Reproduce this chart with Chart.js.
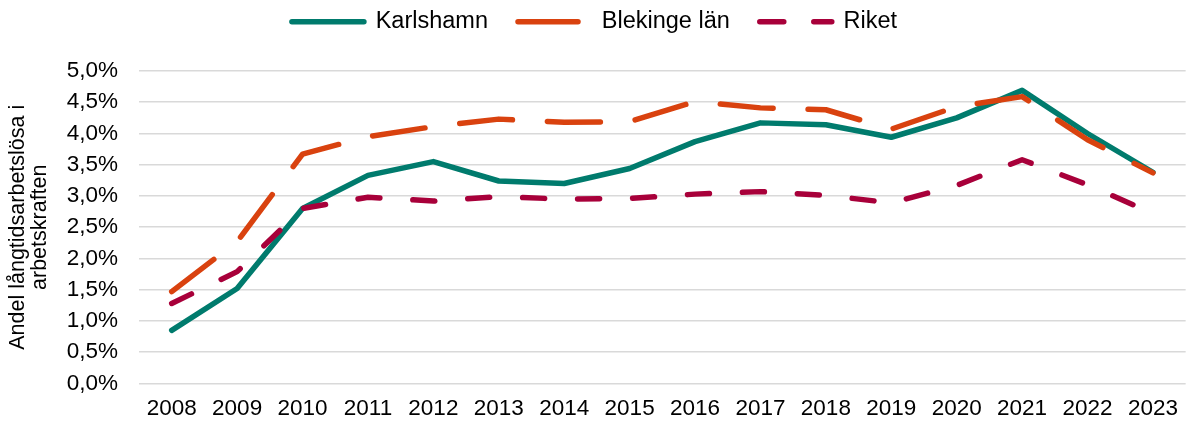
<!DOCTYPE html>
<html>
<head>
<meta charset="utf-8">
<script src="https://cdn.jsdelivr.net/npm/chart.js@4/dist/chart.umd.min.js"></script>
<style>
  html, body { margin: 0; padding: 0; background: #fff; overflow: hidden; }
  #wrap { position: relative; width: 1190px; height: 423px; }
</style>
</head>
<body>
<div id="wrap"><canvas id="c"></canvas></div>
<script>
const years = ['2008','2009','2010','2011','2012','2013','2014','2015','2016','2017','2018','2019','2020','2021','2022','2023'];
const karlshamn = [0.85, 1.52, 2.80, 3.33, 3.55, 3.24, 3.20, 3.44, 3.87, 4.17, 4.14, 3.94, 4.25, 4.69, 4.00, 3.38];
const blekinge  = [1.47, 2.27, 3.67, 3.95, 4.11, 4.23, 4.18, 4.19, 4.51, 4.41, 4.38, 4.07, 4.43, 4.59, 3.90, 3.37];
const riket     = [1.28, 1.79, 2.80, 2.98, 2.92, 2.99, 2.95, 2.96, 3.03, 3.07, 3.01, 2.89, 3.17, 3.58, 3.18, 2.72];
const seriesNames = ['Karlshamn', 'Blekinge län', 'Riket'];
const yAxisTitle = ['Andel långtidsarbetslösa i', 'arbetskraften'];

const FONT = "'Liberation Sans', Arial, sans-serif";
const legendDashes = [[], [60, 40], [24, 30]];

const legendTweak = {
  id: 'legendTweak',
  beforeInit(chart) {
    const lg = chart.legend;
    const origFit = lg.fit;
    lg.fit = function () { origFit.bind(lg)(); this.height = 71; };
    const origDraw = lg.draw;
    lg.draw = function () {
      const ctx = chart.ctx;
      ctx.save();
      ctx.translate(0, -20);
      origDraw.call(lg);
      ctx.restore();
    };
  }
};

new Chart(document.getElementById('c'), {
  type: 'line',
  data: {
    labels: years,
    datasets: [
      { label: seriesNames[0], data: karlshamn, borderColor: '#007B6D', backgroundColor: '#007B6D',
        borderWidth: 5.5, borderCapStyle: 'round', borderJoinStyle: 'round', pointRadius: 0, tension: 0, order: 3 },
      { label: seriesNames[1], data: blekinge, borderColor: '#D9420F', backgroundColor: '#D9420F',
        borderWidth: 5.5, borderDash: [53, 35], borderCapStyle: 'round', borderJoinStyle: 'round', pointRadius: 0, tension: 0, order: 2 },
      { label: seriesNames[2], data: riket, borderColor: '#A8003A', backgroundColor: '#A8003A',
        borderWidth: 5.5, borderDash: [22, 33], borderCapStyle: 'round', borderJoinStyle: 'round', pointRadius: 0, tension: 0, order: 1 }
    ]
  },
  options: {
    responsive: true,
    maintainAspectRatio: false,
    animation: false,
    layout: { padding: { left: 0, right: 1, top: 0, bottom: 0 } },
    plugins: {
      tooltip: { enabled: false },
      legend: {
        position: 'top',
        labels: {
          usePointStyle: true,
          pointStyle: 'line',
          pointStyleWidth: 72,
          color: '#000',
          font: { family: FONT, size: 23.5 },
          padding: 30,
          sort: (a, b) => a.datasetIndex - b.datasetIndex,
          generateLabels(chart) {
            const items = Chart.defaults.plugins.legend.labels.generateLabels(chart);
            items.forEach(it => {
              const ds = chart.data.datasets[it.datasetIndex];
              it.lineDash = legendDashes[it.datasetIndex] || [];
              it.lineCap = 'round';
              it.lineWidth = ds.borderWidth;
              it.strokeStyle = ds.borderColor;
            });
            return items;
          }
        }
      }
    },
    scales: {
      x: {
        offset: true,
        grid: { display: false, drawTicks: false, offset: true },
        border: { display: false },
        ticks: { color: '#000', font: { family: FONT, size: 22.5 }, padding: 12, maxRotation: 0, autoSkip: false },
        afterFit(scale) { scale.height = 39.5; }
      },
      y: {
        min: 0, max: 5,
        grid: { color: '#d9d9d9', lineWidth: 1.6, drawTicks: false },
        border: { display: false },
        ticks: {
          stepSize: 0.5, color: '#000', padding: 21,
          font: { family: FONT, size: 22.5 },
          callback: v => v.toFixed(1).replace('.', ',') + '%'
        },
        title: {
          display: true, text: yAxisTitle, color: '#000',
          font: { family: FONT, size: 21.5, lineHeight: 1.03 }, padding: { top: 7, bottom: 0 }
        },
        afterFit(scale) { scale.width = 139; }
      }
    }
  },
  plugins: [legendTweak]
});
</script>
</body>
</html>
